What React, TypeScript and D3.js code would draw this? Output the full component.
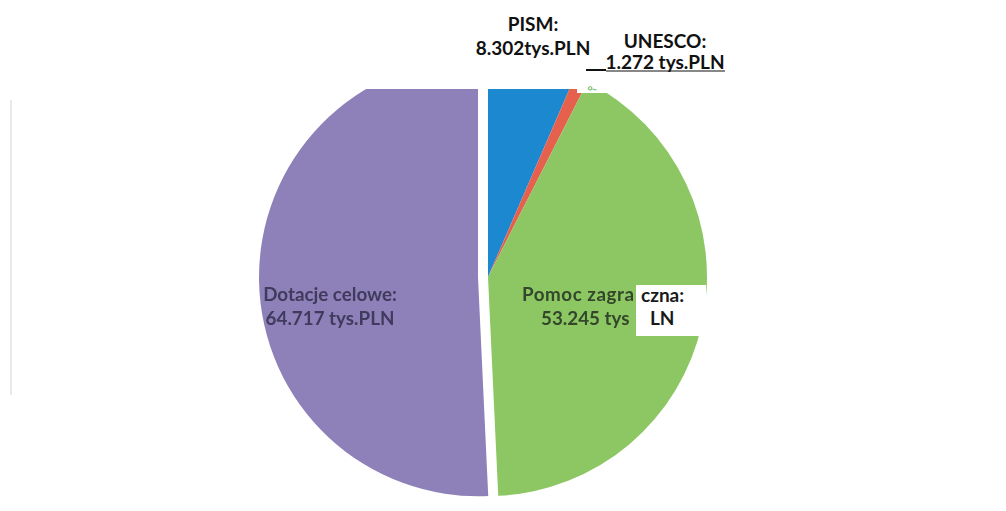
import React from 'react';
import * as d3 from 'd3';

// ---- data ----
const categories = ['PISM', 'UNESCO', 'Pomoc zagraniczna', 'Dotacje celowe'];
const values = [8302, 1272, 53245, 64717];
const valueTexts = ['8.302tys.PLN', '1.272 tys.PLN', '53.245 tys.PLN', '64.717 tys.PLN'];
const sliceColors = ['#1f88d0', '#e5604e', '#8dc763', '#8e81b9'];
const explodeBy = [0, 0, 0, 10];

// visible pieces of the green label (the rest is covered by a pasted white patch in the scan)
const greenVisible = ['Pomoc zagra', '53.245 tys'];
const greenPatch = ['czna:', 'LN'];

// ---- layout ----
const W = 1006;
const H = 511;
const CX = 488;
const CY = 277;
const R = 219;
const CLIP_TOP = 89;

const outsideLabels = [
  { i: 0, x: 533, y1: 31, y2: 55 },
  { i: 1, x: 665, y1: 48, y2: 69 },
];

export default function App() {
  const arcs = d3.pie<number>().sort(null).value((d) => d).startAngle(0).endAngle(2 * Math.PI)(values);
  const arcGen = d3.arc<d3.PieArcDatum<number>>().innerRadius(0).outerRadius(R);

  const font = 'Lato, "Open Sans", sans-serif';

  return (
    <svg width={W} height={H} style={{ position: 'absolute', left: 0, top: 0, background: '#fff' }}>
      <defs>
        <clipPath id="pieClip">
          <rect x={0} y={CLIP_TOP} width={W} height={H - CLIP_TOP} />
        </clipPath>
        <filter id="scanBlur" x="-5%" y="-5%" width="110%" height="110%">
          <feGaussianBlur stdDeviation="0.7" />
        </filter>
        <filter id="softBlur" x="-5%" y="-5%" width="110%" height="110%">
          <feGaussianBlur stdDeviation="0.35" />
        </filter>
      </defs>
      <rect x={0} y={0} width={W} height={H} fill="#ffffff" />
      {/* faint scan edge */}
      <line x1={11} x2={11} y1={100} y2={395} stroke="#e9e9e9" strokeWidth={2} />

      <g clipPath="url(#pieClip)" filter="url(#softBlur)">
        {arcs.map((a, k) => {
          const mid = (a.startAngle + a.endAngle) / 2;
          const off = explodeBy[k];
          const dx = off * Math.sin(mid);
          const dy = -off * Math.cos(mid);
          return (
            <path
              key={categories[k]}
              d={arcGen(a) || ''}
              transform={`translate(${CX + dx},${CY + dy})`}
              fill={sliceColors[k]}
            />
          );
        })}
      </g>

      {/* white patch near top of the pie */}
      <rect x={577} y={82} width={30} height={11} fill="#fff" />
      <text x={588} y={91} fontSize={8} fill="#63b45c" fontFamily={font} fontWeight={700} transform="rotate(20,592,88)">
        o~
      </text>

      {/* inside labels */}
      <g filter="url(#scanBlur)" fontFamily={font} fontWeight={700} fontSize={18.8}>
        <g textAnchor="middle" fill="#3f3a5c">
          <text x={330} y={301}>{categories[3] + ':'}</text>
          <text x={330} y={325}>{valueTexts[3]}</text>
        </g>
        <g fill="#34472c">
          <text x={522} y={301} textLength={112}>{greenVisible[0]}</text>
          <text x={541} y={325}>{greenVisible[1]}</text>
        </g>
      </g>

      {/* pasted white patch over the green label */}
      <rect x={636} y={285} width={70} height={51} fill="#fff" />
      <g fontFamily={font} fontWeight={700} fontSize={19} fill="#1a1a1a">
        <text x={641} y={302}>{greenPatch[0]}</text>
        <text x={650} y={325}>{greenPatch[1]}</text>
      </g>

      {/* outside labels */}
      {outsideLabels.map((l) => (
        <g key={categories[l.i]} fontFamily={font} fontWeight={700} fontSize={19} textAnchor="middle" fill="#111">
          <text x={l.x} y={l.y1}>{categories[l.i] + ':'}</text>
          <text x={l.x} y={l.y2}>{valueTexts[l.i]}</text>
        </g>
      ))}
      {/* leader for UNESCO */}
      <line x1={586} x2={606} y1={70} y2={70} stroke="#111" strokeWidth={2} />
      <line x1={606} x2={725} y1={71} y2={71} stroke="#111" strokeWidth={1} />
    </svg>
  );
}
